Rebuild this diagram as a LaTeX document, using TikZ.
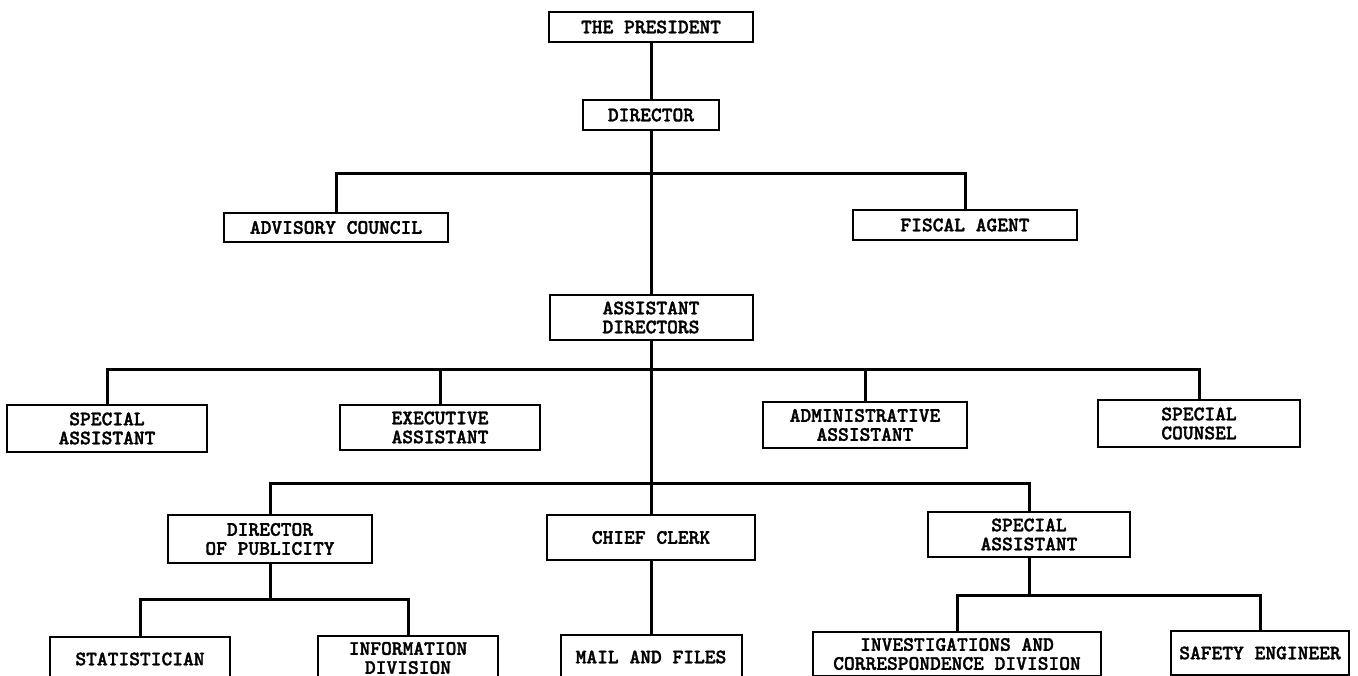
\documentclass[tikz,border=0pt]{standalone}
\usepackage{fontspec}
\newfontfamily\typewriter[FakeBold=1.6]{lmmonolt10-bold.otf}
\usetikzlibrary{positioning}

\begin{document}
\begin{tikzpicture}[
    x=1pt, y=-1pt,
    every node/.style={font=\typewriter\fontsize{20.5}{19}\selectfont},
    box/.style={draw, line width=2pt, inner sep=0pt, align=center, fill=white},
    link/.style={line width=3pt}
]
\clip (0,0) rectangle (1358,676);
\fill[white] (0,0) rectangle (1358,676);

% Top of the chart
\node[box, minimum width=204, minimum height=30] (pres) at (651,27) {THE PRESIDENT};
\node[box, minimum width=136, minimum height=30] (dir) at (651,115) {DIRECTOR};
\node[box, minimum width=224, minimum height=29] (adv) at (336,227.5) {ADVISORY COUNCIL};
\node[box, minimum width=224, minimum height=30] (fis) at (965,225) {FISCAL AGENT};
\node[box, minimum width=203, minimum height=45] (asd) at (651,317.5) {ASSISTANT\\DIRECTORS};

% Second row
\node[box, minimum width=200, minimum height=47] (sa1) at (107,428.5) {SPECIAL\\ASSISTANT};
\node[box, minimum width=200, minimum height=45] (exa) at (440,427.5) {EXECUTIVE\\ASSISTANT};
\node[box, minimum width=204, minimum height=46] (ada) at (865,425) {ADMINISTRATIVE\\ASSISTANT};
\node[box, minimum width=202, minimum height=47] (sco) at (1199,423.5) {SPECIAL\\COUNSEL};

% Third row
\node[box, minimum width=204, minimum height=48] (dop) at (270,539) {DIRECTOR\\OF PUBLICITY};
\node[box, minimum width=208, minimum height=45] (cc) at (651,537.5) {CHIEF CLERK};
\node[box, minimum width=202, minimum height=45] (sa2) at (1029,534.5) {SPECIAL\\ASSISTANT};

% Bottom row (cut off by the lower edge)
\node[box, minimum width=180, minimum height=44] (sta) at (140,659) {STATISTICIAN};
\node[box, minimum width=180, minimum height=44] (inf) at (408,658) {INFORMATION\\DIVISION};
\node[box, minimum width=181, minimum height=44] (mai) at (651,657) {MAIL AND FILES};
\node[box, minimum width=288, minimum height=44] (inv) at (957,654) {INVESTIGATIONS AND\\CORRESPONDENCE DIVISION};
\node[box, minimum width=178, minimum height=44] (saf) at (1260,653) {SAFETY ENGINEER};

% Bars
\coordinate (b1) at (651,174);
\coordinate (b2) at (651,370);
\coordinate (b3) at (651,483);
\coordinate (b4) at (270,599);
\coordinate (b5) at (1029,595);

% Connectors
\draw[link] (pres) -- (dir);
\draw[link] (dir) -- (asd);
\draw[link] (adv.north) |- (b1) -| (fis.north);
\draw[link] (asd) -- (cc);
\draw[link] (sa1.north) |- (b2) -| (sco.north);
\draw[link] (exa.north) -- (exa.north |- b2);
\draw[link] (ada.north) -- (ada.north |- b2);
\draw[link] (dop.north) |- (b3) -| (sa2.north);
\draw[link] (cc) -- (mai);
\draw[link] (dop) -- (b4);
\draw[link] (sta.north) |- (b4) -| (inf.north);
\draw[link] (sa2) -- (b5);
\draw[link] (inv.north) |- (b5) -| (saf.north);

\end{tikzpicture}
\end{document}
